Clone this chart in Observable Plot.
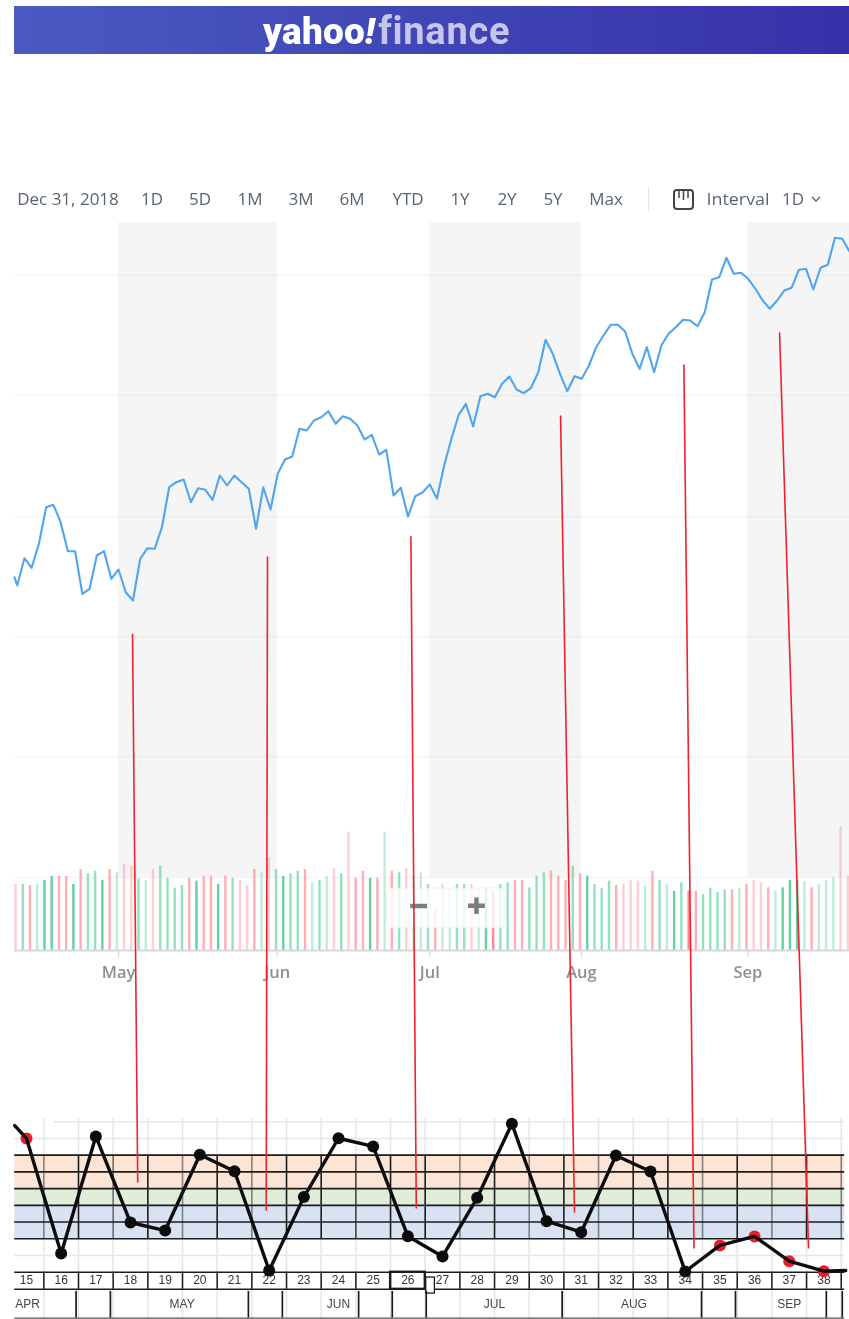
<!DOCTYPE html>
<html>
<head>
<meta charset="utf-8">
<script src="https://cdn.jsdelivr.net/npm/d3@7"></script>
<script src="https://cdn.jsdelivr.net/npm/@observablehq/plot@0.6"></script>
<style>
html,body{margin:0;padding:0;background:#fff;}
#page{position:relative;width:849px;height:1319px;overflow:hidden;background:#fff;filter:blur(.4px);}
#page>svg{position:absolute;left:0;}
#banner{position:absolute;left:14px;top:6px;width:835px;height:48px;background:linear-gradient(90deg,#4a5ac2,#3731a9);z-index:3;}
#logo{position:absolute;left:249px;top:2px;font:900 37px/46px Roboto,sans-serif;letter-spacing:.2px;color:#fff;white-space:nowrap;}
#logo i{font-weight:900;}
#logo span{color:#c6c6ea;font-weight:700;font-size:38px;letter-spacing:.75px;margin-left:3px;}
#toolbar{position:absolute;left:9px;top:186px;width:840px;height:26px;overflow:hidden;z-index:3;font:500 17px/26px "Open Sans",sans-serif;color:#596472;}
#toolbar span{position:absolute;top:0;white-space:nowrap;transform:translateX(-50%);}
#toolbar svg{position:absolute;}
</style>
</head>
<body>
<div id="page">
  <div id="banner"><div id="logo">yahoo<i>!</i><span>finance</span></div></div>
  <div id="toolbar">
    <span style="left:59px">Dec 31, 2018</span>
    <span style="left:143px">1D</span>
    <span style="left:191px">5D</span>
    <span style="left:241px">1M</span>
    <span style="left:292px">3M</span>
    <span style="left:343px">6M</span>
    <span style="left:399px">YTD</span>
    <span style="left:451px">1Y</span>
    <span style="left:498px">2Y</span>
    <span style="left:544px">5Y</span>
    <span style="left:597px">Max</span>
    <svg style="left:639px;top:1px" width="2" height="24"><rect width="1" height="24" fill="#e3e5e8"/></svg>
    <svg style="left:663px;top:2px" width="24" height="23" fill="none" stroke="#444" stroke-width="2"><rect x="2" y="2" width="19" height="19" rx="3"/><path d="M7 3v7M11.5 3v9M16 3v7" stroke-width="1.5"/></svg>
    <span style="left:729px;transform:translateX(-50%) scaleX(1.05)">Interval</span>
    <span style="left:784px">1D</span>
    <svg style="left:802px;top:10px" width="10" height="7" fill="none" stroke="#596472" stroke-width="1.4"><path d="M1 1l4 4 4-4"/></svg>
  </div>
</div>
<script>
// ---- price chart (arbitrary price units, one value per session) ----
const priceValues = [373.3,365,392.3,382.7,406.7,443.3,445.7,428.3,399.3,399.3,356.7,361.7,395,399.3,371.7,381,358.3,350,391.7,402.3,401.7,423.3,463.3,468.3,471,448.3,462.3,460.7,450.7,475,465,475,468.3,461.7,421.7,463.3,441,476.7,491,494,521.7,520,530,533.3,539.3,526.7,534.3,531.7,525,511,515.7,496,500.7,455,462.7,434,454.3,458,466,452,485,511.7,535.7,546.7,524,554.3,556.7,553.3,566.7,574,561,557.3,562.7,578.3,610.7,596.7,576.7,559.3,574.3,571.7,585,603.3,615,625.7,625.7,619,596.7,581.7,603.3,578.3,605,616.7,623.3,630.7,630,624.3,638.3,671,673.3,692.7,676.7,677.7,671.7,661.7,650,641.7,650,660,662.7,680.7,681.7,661,682.7,685.7,712.7,711.7,699];
const gridValues = [675,555,434,314,194,73];
// ---- volume ----
const volumeValues = [66,66,65,66,70,74,74,74,66,81,76.7,79.3,70,81,77.7,86,84.3,71.7,70,81,84.3,72.3,62.3,65,72.3,69.3,74.3,74.3,66,74.3,72.3,70,65,81,77.7,92.7,81,74,76.7,79.3,81,67.3,70,74,81.7,76.7,118.3,72.3,79.3,72.3,72.3,118.3,79.3,77.7,81.7,74.3,77.7,66,41.7,66,61.7,66,66,66,61.7,61.7,60,66,67.7,70,70,62.7,74.3,77.7,79.3,74.3,70,84.3,76.7,74.3,66,62.3,69.3,65,66,70,69.3,65,79.3,70,66,59.3,67.7,59.3,59.3,56,62.3,58,60.7,60.7,62.3,66,70,67.7,62.7,59.3,62.7,70,70,69.3,62.7,66,70,72.7,123.3,74.3];
const volumeSide = ["d","u","d","u","u","u","d","d","u","d","u","u","u","d","u","d","d","u","u","d","u","u","u","u","d","u","d","d","u","d","u","d","d","d","u","d","u","u","u","u","d","u","u","u","d","u","d","d","d","u","d","u","d","u","d","u","u","u","d","u","u","u","u","d","u","u","d","u","u","d","d","u","u","u","d","d","d","u","d","u","u","u","u","d","d","d","d","u","d","u","u","u","u","d","d","u","u","u","u","d","u","d","d","d","d","u","u","u","u","u","d","u","u","u","d","d"];
const volumeTone = [1,2,2,1,3,3,2,2,3,2,2,2,3,2,1,1,1,2,1,1,2,2,2,2,2,3,2,2,3,2,2,1,1,2,1,1,2,3,2,2,2,1,2,1,1,2,1,2,2,3,2,1,2,2,1,1,1,2,2,1,1,2,2,1,1,3,3,2,2,2,2,2,2,2,2,2,2,2,2,3,2,2,2,2,1,1,1,1,2,2,1,3,2,3,2,2,2,2,2,2,1,2,1,1,2,1,3,3,3,1,2,1,1,1,1,1];
// ---- month axis and shaded months ----
const monthLabels = ["May","Jun","Jul","Aug","Sep"];
const monthSessions = [14.25,36.16,57.25,78.2,101.2];
const shadedFrom = [14.25,57.25,101.2];
const shadedTo = [36.16,78.2,115.3];
// ---- red annotation links: session and price-unit ends ----
const linkSessionTop = [16.17,34.82,54.63,75.31,92.35,105.57];
const linkSessionBottom = [16.89,34.64,55.38,77.24,93.75,109.58];
const linkPriceTop = [317,394,414.3,535,586,618];
const linkPriceBottom = [-232,-260,-258,-262,-298,-298];
// ---- lower oscillator ----
const oscWeeks = [14.66,15,16,17,18,19,20,21,22,23,24,25,26,27,28,29,30,31,32,33,34,35,36,37,38,38.63];
const oscValues = [8.77,8,1.12,8.12,2.97,2.49,7.02,6.04,0.1,4.49,8.01,7.52,2.15,0.94,4.45,8.88,3.05,2.39,6.98,6.02,0.04,1.6,2.14,0.66,0.06,0.1];
const redWeeks = [15,35,36,37,38];
const weekNumbers = d3.range(15,39);
const cellEdges = d3.range(15.5,39,1);
const cellEdgeOpacity = [.5,1,.6,1,.5,1,.5,1,1,.8,1,1,.5,1,.5,1,.5,1,1,.5,1,.5,1,.5];
const bandFrom = [5,4,2];
const bandTo = [7,5,4];
const bandFill = ["#fde5d6","#e2edd9","#d9e2f3"];
const bandLines = [2,3,4,5,6,7];
const softLines = [1,8];
const monthRowLabels = ["APR","MAY","JUN","JUL","AUG","SEP"];
const monthRowWeeks = [15.03,19.49,24,28.5,32.52,37];
const monthRowEdges = [16.43,17.42,21.4,22.38,24.58,25.55,26.53,30.45,34.47,35.45,38.07,38.53];

const sessions = priceValues.map((_, i) => i === 0 ? -0.37 : i - 1);
const priceData = priceValues.map((v, i) => ({session: sessions[i], v}));
const volData = volumeValues.map((v, i) => ({session: i, v, side: volumeSide[i], tone: volumeTone[i]}));
const opacityByTone = {1: .32, 2: .55, 3: .8};
const upColor = "#3fc48a", downColor = "#ff6b73";

const main = Plot.plot({
  width: 849, height: 1319, marginTop: 0, marginRight: 0, marginBottom: 0, marginLeft: 0,
  style: {background: "transparent", fontFamily: "'Open Sans',sans-serif"},
  x: {axis: null, domain: [0, 115], range: [15, 847.3]},
  y: {axis: null, domain: [-369, 950], range: [1319, 0]},
  marks: [
    Plot.rect(shadedFrom.map((s, i) => ({s, e: shadedTo[i]})), {x1: "s", x2: "e", y1: 73, y2: 728, fill: "#f5f5f5"}),
    Plot.ruleY(gridValues, {x1: -0.14, x2: 115.3, stroke: "#000", strokeOpacity: .04, strokeWidth: 1.5}),
    Plot.ruleX(volData, {x: "session", y1: 0, y2: "v", strokeWidth: 2.4,
      stroke: d => d.side === "u" ? upColor : downColor, strokeOpacity: d => opacityByTone[d.tone]}),
    Plot.ruleY([0], {x1: -0.14, x2: 115.3, stroke: "#d6d8dc", strokeWidth: 1.8}),
    Plot.ruleX(monthSessions, {y1: 0, y2: -7, stroke: "#d6d8dc", strokeWidth: 1.2}),
    Plot.text(monthLabels, {x: (d, i) => monthSessions[i], y: -22, text: d => d, fontSize: 16.5, fontWeight: 600, fill: "#8b8f96"}),
    Plot.rect([0], {x1: 51.4, x2: 67.57, y1: 22, y2: 62, fill: "#fff", fillOpacity: .8, stroke: "#e4e4e4", strokeOpacity: .6, rx: 4}),
    Plot.text(["\u2212","+"], {x: [55.69, 63.7], y: [43, 43], text: d => d, fontSize: 34, fontWeight: 800, fill: "#7d7d7d"}),
    Plot.line(priceData, {x: "session", y: "v", stroke: "#4fa6ee", strokeWidth: 2.1, dx: 1.7, curve: "linear"}),
    Plot.link(linkSessionTop, {
      x1: d => d, x2: (d, i) => linkSessionBottom[i],
      y1: (d, i) => linkPriceTop[i], y2: (d, i) => linkPriceBottom[i],
      stroke: "#f0202c", strokeWidth: 1.6
    })
  ]
});
main.style.top = "0px"; main.style.zIndex = 2;

const oscData = oscWeeks.map((w, i) => ({w, v: oscValues[i]}));
const ink = "#1c1c1c";
const lower = Plot.plot({
  width: 849, height: 209, marginTop: 0, marginRight: 0, marginBottom: 0, marginLeft: 0,
  style: {background: "transparent", fontFamily: "'Liberation Sans',Arial,sans-serif"},
  x: {axis: null, domain: [15, 38], range: [26, 823.4]},
  y: {axis: null, domain: [-2.83, 9.67], range: [209, 0]},
  marks: [
    Plot.ruleX(cellEdges, {y1: 9.2, y2: -2.83, stroke: "#e6e6e6", strokeWidth: 1.5}),
    Plot.ruleY(softLines, {x1: 14.66, x2: 38.6, stroke: "#e6e6e6", strokeWidth: 1.5}),
    Plot.ruleY([9], {x1: 15.8, x2: 38.6, stroke: "#e6e6e6", strokeWidth: 1.5}),
    Plot.rect(bandFrom.map((a, i) => ({a, b: bandTo[i], f: bandFill[i]})), {x1: 14.66, x2: 38.6, y1: "a", y2: "b", fill: "f"}),
    Plot.ruleX(cellEdges, {y1: 2, y2: 7, stroke: ink, strokeWidth: 1.6, strokeOpacity: (d, i) => cellEdgeOpacity[i]}),
    Plot.ruleY(bandLines, {x1: 14.66, x2: 38.6, stroke: ink, strokeWidth: 1.7}),
    Plot.ruleY([0, -1.02], {x1: 14.66, x2: 38.6, stroke: ink, strokeWidth: 1.6}),
    Plot.ruleX(cellEdges, {y1: 0, y2: -1.02, stroke: ink, strokeWidth: 1.5}),
    Plot.rect([26], {x1: 25.5, x2: 26.5, y1: 0, y2: -1.02, fill: "none", stroke: ink, strokeWidth: 2.2}),
    Plot.rect([0], {x1: 26.53, x2: 26.78, y1: -0.32, y2: -1.28, fill: "#fff", stroke: ink, strokeWidth: 1.3}),
    Plot.text(weekNumbers, {x: d => d, y: -0.5, text: d => String(d), fontSize: 12, fill: "#333"}),
    Plot.ruleX(monthRowEdges, {y1: -1.15, y2: -2.75, stroke: ink, strokeWidth: 1.7}),
    Plot.ruleY([-2.75], {x1: 14.66, x2: 38.6, stroke: "#555", strokeWidth: 1.2}),
    Plot.text(monthRowLabels, {x: (d, i) => monthRowWeeks[i], y: -1.9, text: d => d, fontSize: 12, fill: "#444"}),
    Plot.dot(oscData.filter(d => redWeeks.includes(d.w)), {x: "w", y: "v", r: 6, fill: "#ec1c2a"}),
    Plot.line(oscData, {x: "w", y: "v", stroke: "#0c0c0c", strokeWidth: 3.4, curve: "linear"}),
    Plot.dot(oscData.filter(d => Number.isInteger(d.w) && !redWeeks.includes(d.w)), {x: "w", y: "v", r: 6, fill: "#0c0c0c"})
  ]
});
lower.style.top = "1110px"; lower.style.zIndex = 1;

const page = document.getElementById("page");
page.appendChild(lower);
page.appendChild(main);
</script>
</body>
</html>
